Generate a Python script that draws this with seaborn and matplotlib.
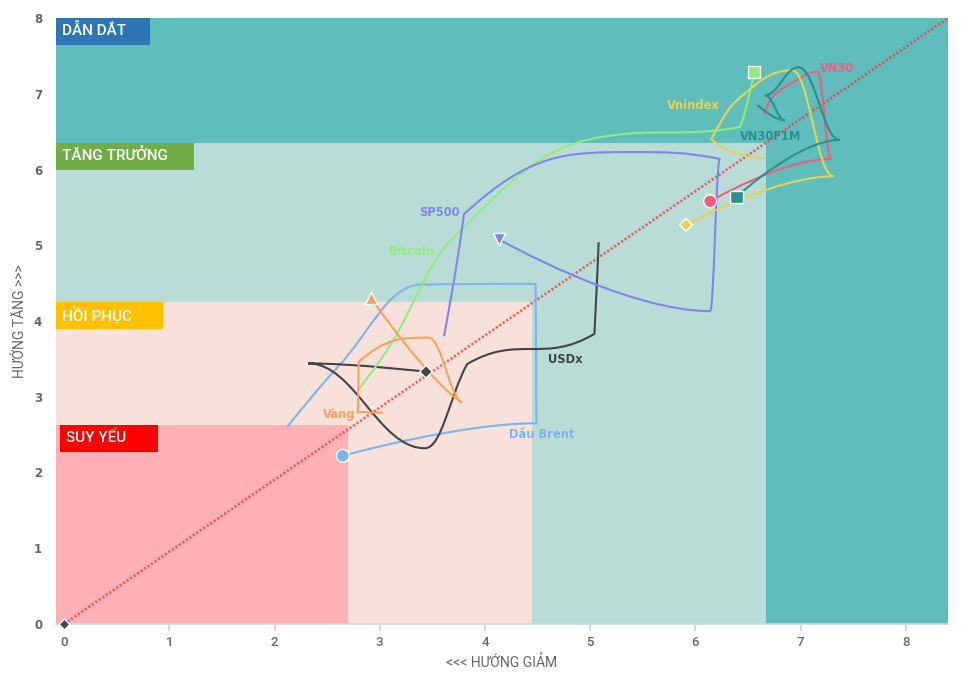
import matplotlib
matplotlib.use("Agg")
import pandas as pd
import matplotlib.pyplot as plt
from matplotlib.path import Path
from matplotlib.patches import PathPatch, Rectangle
import seaborn as sns

# ---- data (x = HƯỚNG GIẢM, y = HƯỚNG TĂNG) ----
series_names = ['Dầu Brent', 'USDx', 'Bitcoin', 'Vàng', 'SP500', 'VN30', 'Vnindex', 'VN30F1M']

brent_x = [2.12, 2.60, 3.39, 4.48, 4.49, 2.65]
brent_y = [2.60, 3.39, 4.48, 4.49, 2.65, 2.22]
usdx_x = [5.08, 5.04, 3.83, 3.43, 2.32, 3.44]
usdx_y = [5.04, 3.83, 3.43, 2.32, 3.44, 3.33]
bitcoin_x = [2.80, 3.10, 3.68, 5.07, 6.42, 6.56]
bitcoin_y = [3.10, 3.68, 5.07, 6.42, 6.56, 7.29]
vang_x = [3.03, 2.79, 2.80, 3.46, 3.78, 2.92]
vang_y = [2.79, 2.80, 3.46, 3.78, 2.92, 4.30]
sp500_x = [3.61, 3.80, 5.41, 6.23, 6.14, 4.13]
sp500_y = [3.80, 5.41, 6.23, 6.14, 4.13, 5.08]
vn30_x = [6.65, 6.72, 6.94, 7.16, 7.29, 6.14]
vn30_y = [6.72, 6.94, 7.16, 7.29, 6.14, 5.58]
vnindex_x = [6.64, 6.15, 6.40, 6.92, 7.31, 5.91]
vnindex_y = [6.15, 6.40, 6.92, 7.31, 5.91, 5.27]
vn30f1m_x = [6.59, 6.85, 6.66, 6.98, 7.37, 6.39]
vn30f1m_y = [6.85, 6.65, 6.98, 7.35, 6.39, 5.64]

all_x = [brent_x, usdx_x, bitcoin_x, vang_x, sp500_x, vn30_x, vnindex_x, vn30f1m_x]
all_y = [brent_y, usdx_y, bitcoin_y, vang_y, sp500_y, vn30_y, vnindex_y, vn30f1m_y]

colors = ['#7cb5ec', '#434348', '#90ed7d', '#f7a35c', '#8085e9', '#f15c80', '#e4d354', '#2b908f']
markers = ['o', 'D', 's', '^', 'v', 'o', 'D', 's']
marker_size = {'o': 85, 'D': 42, 's': 75, '^': 75, 'v': 75}

# series label positions
label_x = [4.54, 4.76, 3.30, 2.61, 3.57, 7.35, 5.98, 6.71]
label_y = [2.50, 3.49, 4.92, 2.76, 5.43, 7.34, 6.85, 6.43]

# zones
zone_names = ['DẪN DẮT', 'TĂNG TRƯỞNG', 'HỒI PHỤC', 'SUY YẾU']
zone_right = [8.4, 6.67, 4.45, 2.70]
zone_top = [8.0, 6.35, 4.25, 2.63]
zone_fill = ['#5fbdbb', '#b9ddd6', '#f8e1da', '#ffb0b6']
tag_colors = ['#2e75b6', '#70ad47', '#ffc000', '#ff0000']
tag_width = [0.89, 1.31, 1.02, 0.93]

diag_x = [0, 8.4]
diag_y = [0, 8]

XMIN, XMAX = -0.076, 8.4


def spline_path(xs, ys):
    # highcharts-style spline through the points
    pts = list(zip(xs, ys))
    n = len(pts)
    verts = [pts[0]]
    codes = [Path.MOVETO]
    right = [None] * n
    for i in range(1, n):
        px, py = pts[i]
        lx, ly = pts[i - 1]
        lcx, lcy = px, py
        if i < n - 1:
            nx, ny = pts[i + 1]
            lcx = (1.5 * px + lx) / 2.5
            lcy = (1.5 * py + ly) / 2.5
            rcx = (1.5 * px + nx) / 2.5
            rcy = (1.5 * py + ny) / 2.5
            corr = 0
            if rcx != lcx:
                corr = (rcy - lcy) * (rcx - px) / (rcx - lcx) + py - rcy
            lcy += corr
            rcy += corr
            if lcy > ly and lcy > py:
                lcy = max(ly, py); rcy = 2 * py - lcy
            elif lcy < ly and lcy < py:
                lcy = min(ly, py); rcy = 2 * py - lcy
            if rcy > ny and rcy > py:
                rcy = max(ny, py); lcy = 2 * py - rcy
            elif rcy < ny and rcy < py:
                rcy = min(ny, py); lcy = 2 * py - rcy
            right[i] = (rcx, rcy)
        c1 = right[i - 1] if right[i - 1] is not None else pts[i - 1]
        verts += [c1, (lcx, lcy), (px, py)]
        codes += [Path.CURVE4] * 3
    return Path(verts, codes)


sns.set_theme(style='white')
plt.rcParams['font.family'] = ['DejaVu Sans']

fig = plt.figure(figsize=(9.61, 6.85), dpi=100)
ax = fig.add_axes([0.0583, 0.0891, 0.9282, 0.8846])

# background zones + tags
for name, zr, zt, fc, tc, tw in zip(zone_names, zone_right, zone_top, zone_fill, tag_colors, tag_width):
    ax.add_patch(Rectangle((XMIN, 0), zr - XMIN, zt, facecolor=fc, edgecolor='none', zorder=0))
    x0 = XMIN if name != 'SUY YẾU' else -0.04
    ax.add_patch(Rectangle((x0, zt - 0.355), tw, 0.355, facecolor=tc, edgecolor='none', zorder=1))
    ax.text(x0 + 0.055, zt - 0.17, name, color='white', fontsize=11, family=['Roboto', 'DejaVu Sans'],
            fontweight='medium', ha='left', va='center', zorder=2)

# diagonal
sns.lineplot(x=diag_x, y=diag_y, ax=ax, color='#ef3b45', lw=1.9, linestyle=(0, (0.8, 0.8)), alpha=0.8, zorder=3)
ax.scatter(diag_x[:1], diag_y[:1], marker='D', s=30, color='#434348', edgecolor='white', lw=1, zorder=6, clip_on=False)

# series curves
for xs, ys, c in zip(all_x, all_y, colors):
    ax.add_patch(PathPatch(spline_path(xs, ys), fill=False, edgecolor=c, lw=1.5, zorder=4))

# end markers
last = pd.DataFrame({
    'name': series_names,
    'x': [xs[-1] for xs in all_x],
    'y': [ys[-1] for ys in all_y],
    'm': markers,
})
for m, grp in last.groupby('m'):
    sns.scatterplot(data=grp, x='x', y='y', hue='name', style='name',
                    palette=dict(zip(series_names, colors)), markers={n: m for n in grp['name']},
                    s=marker_size[m], edgecolor='white', linewidth=1, legend=False, ax=ax, zorder=5)

for name, lx, ly, c in zip(series_names, label_x, label_y, colors):
    ax.text(lx, ly, name, color=c, fontsize=8.3, fontweight='bold', ha='center', va='center', zorder=7)

ax.set_xlim(XMIN, XMAX)
ax.set_ylim(0, 8)
ax.set_xticks(range(0, 9))
ax.set_yticks(range(0, 9))
for s in ['top', 'right', 'left']:
    ax.spines[s].set_visible(False)
ax.spines['bottom'].set_color('#ccd6eb')
ax.tick_params(axis='x', length=5, color='#ccd6eb', labelcolor='#666666', labelsize=9.5, pad=4, bottom=True)
ax.tick_params(axis='y', length=0, labelcolor='#666666', labelsize=8.5, pad=10)
for t in ax.get_yticklabels():
    t.set_fontweight('bold')
for t in ax.get_xticklabels():
    t.set_family(['Roboto', 'DejaVu Sans'])
    t.set_fontweight('medium')

ax.set_xlabel('<<< HƯỚNG GIẢM', color='#666666', fontsize=10, labelpad=4,
              family=['Roboto', 'DejaVu Sans'])
ax.set_ylabel('HƯỚNG TĂNG >>>', color='#666666', fontsize=10, labelpad=5,
              family=['Roboto', 'DejaVu Sans'])

fig.savefig('out.png', dpi=100)
